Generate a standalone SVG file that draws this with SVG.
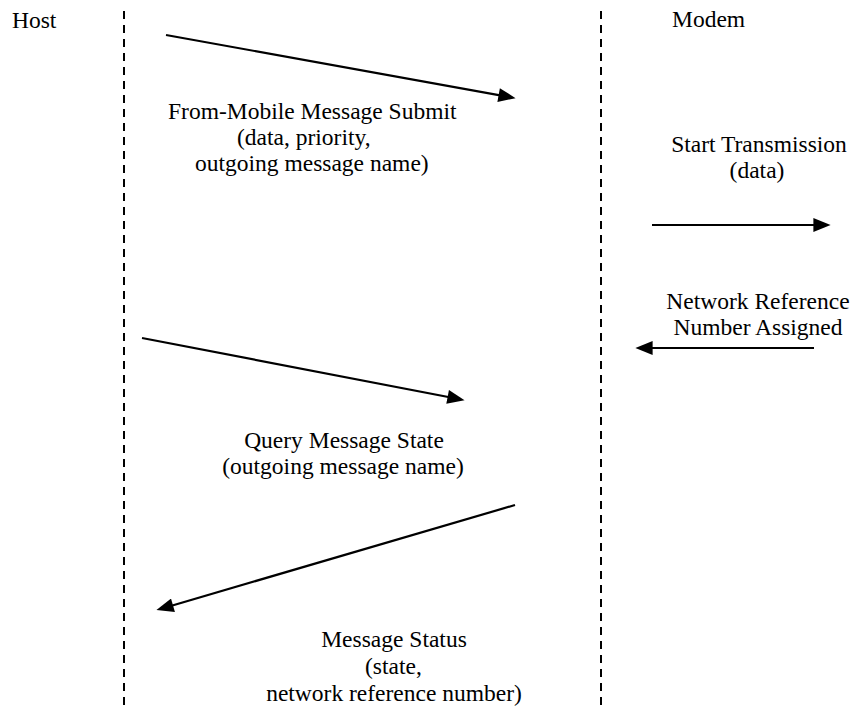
<svg xmlns="http://www.w3.org/2000/svg" width="856" height="715" viewBox="0 0 856 715">
  <style>
    text { font-family: "Liberation Serif", "Times New Roman", serif; font-size: 23.5px; fill: #000; }
    .life { stroke: #000; stroke-width: 2; stroke-dasharray: 8 6; fill: none; }
    .msg { stroke: #000; stroke-width: 2.2; fill: none; marker-end: url(#head); }
  </style>
  <defs>
    <marker id="head" markerUnits="userSpaceOnUse" markerWidth="18" markerHeight="14" refX="8" refY="6.5" orient="auto" viewBox="0 0 16 13">
      <path d="M0,0 L16,6.5 L0,13 Z" fill="#000"/>
    </marker>
  </defs>
  <rect width="856" height="715" fill="#fff"/>

  <g id="host">
    <line class="life" x1="124" y1="11" x2="124" y2="706"/>
    <text x="12" y="28">Host</text>
  </g>
  <g id="modem">
    <line class="life" x1="601" y1="11" x2="601" y2="706"/>
    <text x="672" y="27">Modem</text>
  </g>

  <g id="connectors">
    <line class="msg" x1="166" y1="35" x2="507.1" y2="96.6"/>
    <line class="msg" x1="652" y1="225" x2="822" y2="225"/>
    <line class="msg" x1="814" y1="348" x2="644" y2="348"/>
    <line class="msg" x1="142" y1="338" x2="456.1" y2="398.5"/>
    <line class="msg" x1="515" y1="505" x2="164.7" y2="607.7"/>
  </g>

  <g id="labels">
    <text x="168" y="119">From-Mobile Message Submit</text>
    <text x="237" y="145">(data, priority,</text>
    <text x="195" y="171">outgoing message name)</text>

    <text x="759" y="152" text-anchor="middle">Start Transmission</text>
    <text x="757" y="178" text-anchor="middle">(data)</text>

    <text x="758" y="309" text-anchor="middle">Network Reference</text>
    <text x="758" y="335" text-anchor="middle">Number Assigned</text>

    <text x="344" y="448" text-anchor="middle">Query Message State</text>
    <text x="343" y="474" text-anchor="middle">(outgoing message name)</text>

    <text x="394" y="647" text-anchor="middle">Message Status</text>
    <text x="365" y="674">(state,</text>
    <text x="394" y="701" text-anchor="middle">network reference number)</text>
  </g>
</svg>
